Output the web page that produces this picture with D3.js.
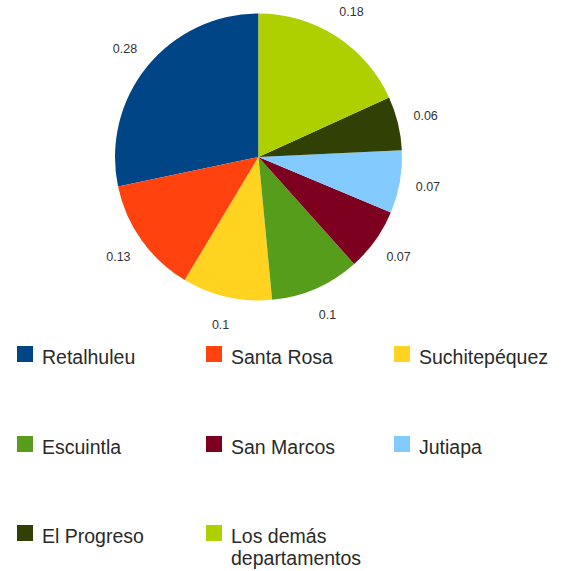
<!DOCTYPE html>
<html><head><meta charset="utf-8">
<script src="https://cdn.jsdelivr.net/npm/d3@7"></script>
<style>body{margin:0;background:#fff}</style>
</head><body>
<script>
const categories = ["Retalhuleu","Santa Rosa","Suchitepéquez","Escuintla","San Marcos","Jutiapa","El Progreso","Los demás departamentos"];
const values = [0.28,0.13,0.1,0.1,0.07,0.07,0.06,0.18];
const labels = ["0.28","0.13","0.1","0.1","0.07","0.07","0.06","0.18"];
const colors = ["#004586","#ff420e","#ffd320","#579d1c","#7e0021","#83caff","#314004","#aecf00"];

const W=564,H=571;
const svg=d3.select("body").append("svg").attr("width",W).attr("height",H);
const cx=258.5, cy=157, R=143.5, LR=172;
const pie=d3.pie().sort(null).startAngle(0).endAngle(-2*Math.PI);
const arcs=pie(values);
const arc=d3.arc().innerRadius(0).outerRadius(R);
const g=svg.append("g").attr("transform",`translate(${cx},${cy})`);
g.selectAll("path").data(arcs).join("path").attr("d",arc).attr("fill",(d,i)=>colors[i]);
g.selectAll("text").data(arcs).join("text")
 .attr("x",d=>{const a=(d.startAngle+d.endAngle)/2;return LR*Math.sin(a);})
 .attr("y",d=>{const a=(d.startAngle+d.endAngle)/2;return -LR*Math.cos(a);})
 .attr("text-anchor","middle").attr("dominant-baseline","central")
 .attr("font-family","Liberation Sans, Arial, sans-serif").attr("font-size",12.5).attr("fill","#333")
 .text((d,i)=>labels[i]);

const colX=[17,206,394], rowY=[364,454,543];
const lg=svg.append("g");
categories.forEach((c,i)=>{
  const x=colX[i%3], y=rowY[Math.floor(i/3)];
  lg.append("rect").attr("x",x).attr("y",y-18).attr("width",16).attr("height",16).attr("fill",colors[i]);
  const t=lg.append("text").attr("x",x+25).attr("y",y)
    .attr("font-family","Liberation Sans, Arial, sans-serif").attr("font-size",19.5).attr("fill","#2a2a2a");
  if(c==="Los demás departamentos"){
    t.append("tspan").attr("x",x+25).text("Los demás");
    t.append("tspan").attr("x",x+25).attr("dy",22).text("departamentos");
  } else t.text(c);
});
</script>
</body></html>
